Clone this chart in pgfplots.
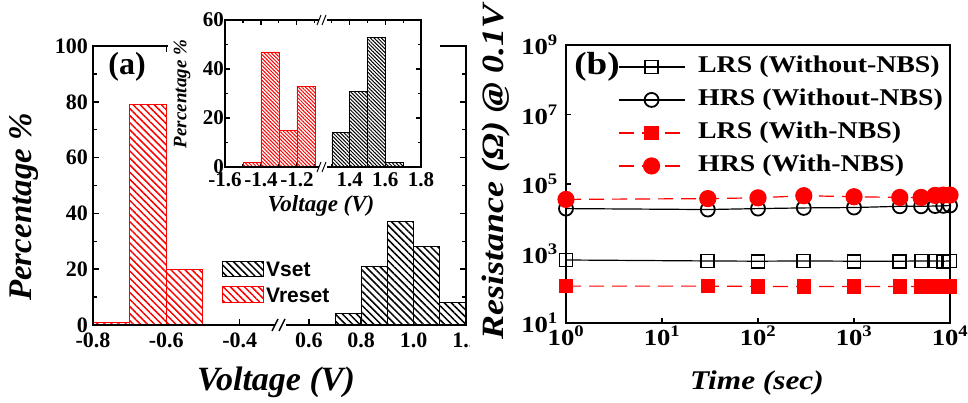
\documentclass[border=0pt]{standalone}
\usepackage{fontspec}
\setmainfont{Liberation Serif}
\newfontfamily\sansb{Liberation Sans}
\newfontfamily\wideserif{Liberation Serif}[FakeStretch=1.16]
\usepackage{pgfplots}
\pgfplotsset{compat=1.18}
\usetikzlibrary{patterns.meta}

\pgfplotsset{
  histo/.style={
    scale only axis, ybar, bar width=0.1, bar shift=0pt,
    ymin=0, axis line style={draw=none},
    tick align=inside, tick style={black, line width=1.5pt},
    /pgf/number format/assume math mode=true,
  },
  bigticks/.style={
    major tick length=6pt, minor tick length=4pt,
    tick label style={font=\fontsize{22}{22}\selectfont\bfseries},
    yticklabel style={inner xsep=5pt},
    xticklabel style={inner ysep=8pt},
  },
  smallticks/.style={
    major tick length=5pt, minor tick length=3pt,
    tick style={line width=1.1pt},
    tick label style={font=\fontsize{21}{21}\selectfont\bfseries},
    yticklabel style={inner xsep=1pt},
    xticklabel style={inner ysep=5pt},
  },
}

\begin{document}
\begin{tikzpicture}[x=1pt,y=1pt]
\path[use as bounding box] (0,0) rectangle (968,403);

% ---------- panel (a) ----------
\begin{scope}
\clip (0,0) rectangle (469,403);
\begin{axis}[histo, bigticks, name=aL, at={(93pt,78pt)}, anchor=south west,
  width=187pt, height=279pt,
  xmin=-0.8, xmax=-0.29, ymax=100,
  ytick={0,20,...,100}, minor ytick={10,30,...,90}, ytick pos=left,
  xtick={-0.8,-0.6,-0.4}, xticklabels={-0.8,-0.6,-0.4}, xtick pos=both]
\addplot[draw=red, line width=1pt, pattern={Lines[angle=-45,distance=5pt,line width=1.5pt]}, pattern color=red]
  coordinates {(-0.75,1) (-0.65,79) (-0.55,20)};
\end{axis}
\begin{axis}[histo, bigticks, name=aR, at={(280pt,78pt)}, anchor=south west,
  width=186pt, height=279pt,
  xmin=0.49, xmax=1.2, ymax=100,
  ytick={0,20,...,100}, minor ytick={10,30,...,90}, ytick pos=right, yticklabels={},
  xtick={0.6,0.8,1.0,1.2}, xticklabels={0.6,0.8,1.0,1.2}, xtick pos=both]
\addplot[draw=black, line width=1pt, pattern={Lines[angle=-45,distance=5pt,line width=1.5pt]}, pattern color=black]
  coordinates {(0.75,4) (0.85,21) (0.95,37) (1.05,28) (1.15,8)};
\end{axis}
\draw[line width=2pt] (aL.south west) rectangle (aR.north east);
\fill[white] (275,74) rectangle (286,82);
\draw[line width=1.4pt] (272,72) -- (278,84) (279,72) -- (285,84);

% inset background
\fill[white] (168,184) rectangle (440,403);

\begin{axis}[histo, smallticks, name=iL, at={(225pt,236pt)}, anchor=south west,
  width=98pt, height=147pt,
  xmin=-1.6, xmax=-1.055, ymax=60,
  ytick={0,20,40,60}, minor ytick={10,30,50}, ytick pos=left,
  xtick={-1.6,-1.4,-1.2}, xticklabels={-1.6,-1.4,-1.2}, minor xtick={-1.5,-1.3,-1.1}, xtick pos=both]
\addplot[draw=red, line width=0.6pt, pattern={Lines[angle=-45,distance=2.6pt,line width=1pt]}, pattern color=red]
  coordinates {(-1.45,2) (-1.35,47) (-1.25,15) (-1.15,33)};
\end{axis}
\begin{axis}[histo, smallticks, name=iR, at={(323pt,236pt)}, anchor=south west,
  width=98pt, height=147pt,
  xmin=1.25, xmax=1.8, ymax=60,
  ytick={0,20,40,60}, minor ytick={10,30,50}, ytick pos=right, yticklabels={},
  xtick={1.4,1.6,1.8}, xticklabels={1.4,1.6,1.8}, minor xtick={1.3,1.5,1.7}, xtick pos=both]
\addplot[draw=black, line width=0.6pt, pattern={Lines[angle=-45,distance=2.6pt,line width=1pt]}, pattern color=black]
  coordinates {(1.35,14) (1.45,31) (1.55,53) (1.65,2)};
\end{axis}
\draw[line width=1.5pt] (iL.south west) rectangle (iR.north east);
\fill[white] (319,232) rectangle (327,240);
\fill[white] (319,379) rectangle (327,387);
\draw[line width=1pt] (317,231) -- (321,241) (322,231) -- (326,241);
\draw[line width=1pt] (317,378) -- (321,388) (322,378) -- (326,388);

\node[rotate=90, font=\fontsize{19}{19}\selectfont\bfseries\itshape] at (182,309) {Percentage \%};
\node[font=\fontsize{23}{23}\selectfont\bfseries\itshape] at (321,197) {Voltage (V)};

% legend (a)
\draw[line width=1pt, pattern={Lines[angle=-45,distance=5pt,line width=1.5pt]}, pattern color=black] (222,126) rectangle (263,141);
\draw[draw=red, line width=1pt, pattern={Lines[angle=-45,distance=5pt,line width=1.5pt]}, pattern color=red] (222,100) rectangle (263,116);
\node[anchor=west, inner sep=0pt, font=\sansb\fontsize{21}{21}\selectfont\bfseries] at (266,133.5) {Vset};
\node[anchor=west, inner sep=0pt, font=\sansb\fontsize{21}{21}\selectfont\bfseries] at (266,108) {Vreset};

\node[font=\fontsize{32}{32}\selectfont\bfseries] at (127,336) {(a)};
\node[rotate=90, font=\fontsize{33}{33}\selectfont\bfseries\itshape] at (24,196) {Percentage \%};
\node[font=\fontsize{34}{34}\selectfont\bfseries\itshape] at (276,21) {Voltage (V)};
\end{scope}

% ---------- panel (b) ----------
\begin{axis}[name=b, scale only axis, at={(566pt,80pt)}, anchor=south west,
  width=384pt, height=278pt,
  xmode=log, ymode=log, xmin=1, xmax=1e4, ymin=10, ymax=1e9,
  axis line style={line width=2pt},
  tick align=inside, tick style={black, line width=1.5pt}, major tick length=5pt, minor tick length=0pt,
  xtick pos=bottom, ytick pos=left,
  xtick={1,10,100,1000,10000},
  xticklabels={10\textsuperscript{0},10\textsuperscript{1},10\textsuperscript{2},10\textsuperscript{3},10\textsuperscript{4}},
  ytick={10,1000,1e5,1e7,1e9},
  yticklabels={10\textsuperscript{1},10\textsuperscript{3},10\textsuperscript{5},10\textsuperscript{7},10\textsuperscript{9}},
  tick label style={font=\wideserif\fontsize{23}{23}\selectfont\bfseries},
  xticklabel style={inner ysep=3pt}, yticklabel style={inner xsep=8pt},
  legend style={at={(axis description cs:0.127,0.743)}, anchor=west, draw=none, fill=none,
    font=\wideserif\fontsize{24}{24}\selectfont\bfseries, row sep=8pt,
    nodes={inner sep=1pt, text height=17pt, text depth=6pt},
    /tikz/every odd column/.append style={column sep=12pt}},
  legend cell align=left,
  legend image code/.code={\draw[mark repeat=2,mark phase=2,#1] plot coordinates {(0pt,0pt) (33pt,0pt) (66pt,0pt)};},
]
\addplot[black, line width=1.2pt, mark=square, mark size=6.5pt, mark options={solid, line width=1.8pt, fill=white}]
  coordinates {(1,650) (30,610) (100,600) (300,610) (1000,600) (3000,600) (5000,610) (7000,610) (8500,600) (10000,610)};
\addlegendentry{LRS (Without-NBS)}
\addplot[black, line width=1.2pt, mark=o, mark size=7pt, mark options={solid, line width=1.8pt, fill=white}]
  coordinates {(1,19600) (30,18400) (100,19600) (300,20500) (1000,21000) (3000,22800) (5000,22800) (7000,23200) (8500,23500) (10000,24000)};
\addlegendentry{HRS (Without-NBS)}
\addplot[red, line width=1.2pt, dash pattern=on 15pt off 8pt, mark=square*, mark size=6.5pt, mark options={solid}]
  coordinates {(1,115) (30,115) (100,113) (300,112) (1000,112) (3000,112) (5000,112) (7000,112) (8500,112) (10000,112)};
\addlegendentry{LRS (With-NBS)}
\addplot[red, line width=1.2pt, dash pattern=on 15pt off 8pt, mark=*, mark size=8pt, mark options={solid}]
  coordinates {(1,36000) (30,38000) (100,40000) (300,46000) (1000,43000) (3000,41000) (5000,41000) (7000,47000) (8500,48000) (10000,48000)};
\addlegendentry{HRS (With-NBS)}
\end{axis}
\node[font=\wideserif\fontsize{32}{32}\selectfont\bfseries] at (597,336) {(b)};
\node[rotate=90, font=\wideserif\fontsize{31}{31}\selectfont\bfseries\itshape] at (496,231) {Resistance (Ω) @ 0.1V};
\node[font=\wideserif\fontsize{27}{27}\selectfont\bfseries\itshape] at (757,20) {Time (sec)};
\end{tikzpicture}
\end{document}
